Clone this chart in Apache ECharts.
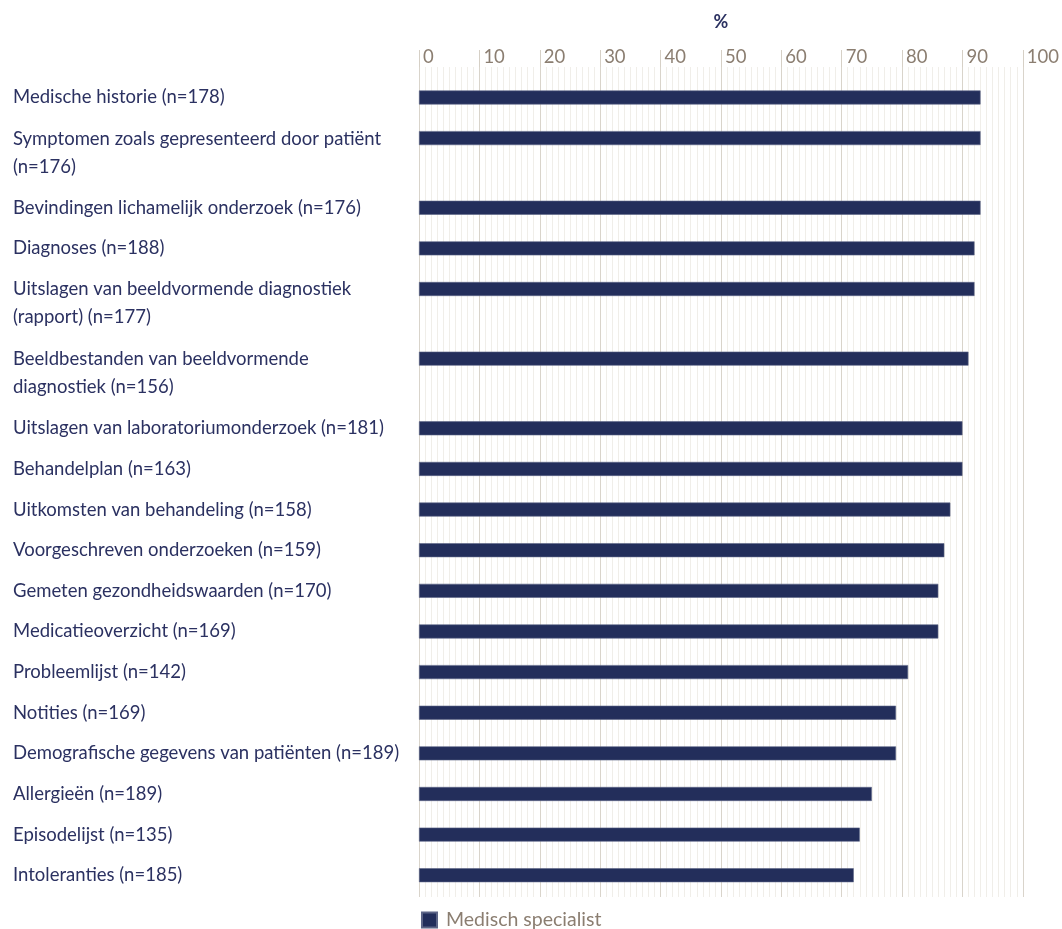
<!DOCTYPE html>
<html>
<head>
<meta charset="utf-8">
<script src="https://cdn.jsdelivr.net/npm/echarts@6/dist/echarts.min.js"></script>
<style>
html,body{margin:0;padding:0;background:#fff;}
#chart{width:1062px;height:929px;}
</style>
</head>
<body>
<div id="chart"></div>
<script>
var categories = [
  "Medische historie (n=178)",
  "Symptomen zoals gepresenteerd door patiënt\n(n=176)",
  "Bevindingen lichamelijk onderzoek (n=176)",
  "Diagnoses (n=188)",
  "Uitslagen van beeldvormende diagnostiek\n(rapport) (n=177)",
  "Beeldbestanden van beeldvormende\ndiagnostiek (n=156)",
  "Uitslagen van laboratoriumonderzoek (n=181)",
  "Behandelplan (n=163)",
  "Uitkomsten van behandeling (n=158)",
  "Voorgeschreven onderzoeken (n=159)",
  "Gemeten gezondheidswaarden (n=170)",
  "Medicatieoverzicht (n=169)",
  "Probleemlijst (n=142)",
  "Notities (n=169)",
  "Demografische gegevens van patiënten (n=189)",
  "Allergieën (n=189)",
  "Episodelijst (n=135)",
  "Intoleranties (n=185)"
];
var values = [93, 93, 93, 92, 92, 91, 90, 90, 88, 87, 86, 86, 81, 79, 79, 75, 73, 72];
var seriesName = "Medisch specialist";
var xTicks = [0, 10, 20, 30, 40, 50, 60, 70, 80, 90, 100];

// Layout: rows with two-line labels take more vertical room.
var LEAD = 10, ROW1 = 14, ROW2 = 24, TRAIL = 8;
var slots = [], slotLabels = {}, barData = [];
function addSlot(v, lab) {
  var key = 's' + slots.length;
  slots.push(key);
  barData.push(v);
  if (lab) slotLabels[key] = lab;
}
for (var k = 0; k < LEAD; k++) addSlot('-', null);
categories.forEach(function (c, i) {
  var two = c.indexOf('\n') >= 0;
  var block = (i === categories.length - 1) ? TRAIL : (two ? ROW2 : ROW1);
  for (var j = 0; j < block; j++) {
    var lab = null;
    if (!two && j === 0) lab = c;
    if (two && j === 5) lab = c;
    addSlot(j === 0 ? values[i] : '-', lab);
  }
});

var chart = echarts.init(document.getElementById('chart'), null, {renderer: 'canvas'});
var font = 'Lato';
chart.setOption({
  animation: false,
  textStyle: {fontFamily: font},
  grid: {left: 419, right: 39, top: 67, bottom: 32, containLabel: false},
  legend: {
    data: [seriesName],
    left: 416, top: 905,
    icon: 'rect', itemWidth: 15, itemHeight: 15,
    textStyle: {color: '#8b7e71', fontSize: 19.5, fontFamily: font, padding: [0, 0, 0, 4]}
  },
  xAxis: {
    type: 'value', position: 'top', min: 0, max: 100, interval: 10,
    name: '%', nameLocation: 'middle', nameGap: 36,
    nameTextStyle: {color: '#2b3161', fontWeight: 'bold', fontSize: 18, fontFamily: font},
    axisLine: {show: false},
    axisTick: {show: true, length: 17, lineStyle: {color: '#d6d0c6', width: 1}},
    axisLabel: {
      color: '#8b7e71', fontSize: 18.5, fontFamily: font, margin: 0,
      align: 'left', verticalAlign: 'bottom', padding: [0, 0, 0, 4],
      formatter: function (v) { return xTicks.indexOf(v) >= 0 ? String(v) : ''; }
    },
    splitLine: {show: true, lineStyle: {color: '#d9d4cb', width: 1}},
    minorTick: {show: false, splitNumber: 10},
    minorSplitLine: {show: true, lineStyle: {color: '#f0eee9', width: 1}}
  },
  yAxis: {
    type: 'category', inverse: true, data: slots,
    axisLine: {show: false}, axisTick: {show: false}, splitLine: {show: false},
    axisLabel: {
      interval: 0, align: 'left', margin: 406,
      color: '#2b3161', fontSize: 18.5, lineHeight: 28, fontFamily: font,
      formatter: function (v) { return slotLabels[v] || ''; }
    }
  },
  series: [{
    name: seriesName, type: 'bar', data: barData, barWidth: 14,
    itemStyle: {color: '#232e5b', borderColor: '#5d6587', borderWidth: 0.6}
  }]
});
</script>
</body>
</html>
